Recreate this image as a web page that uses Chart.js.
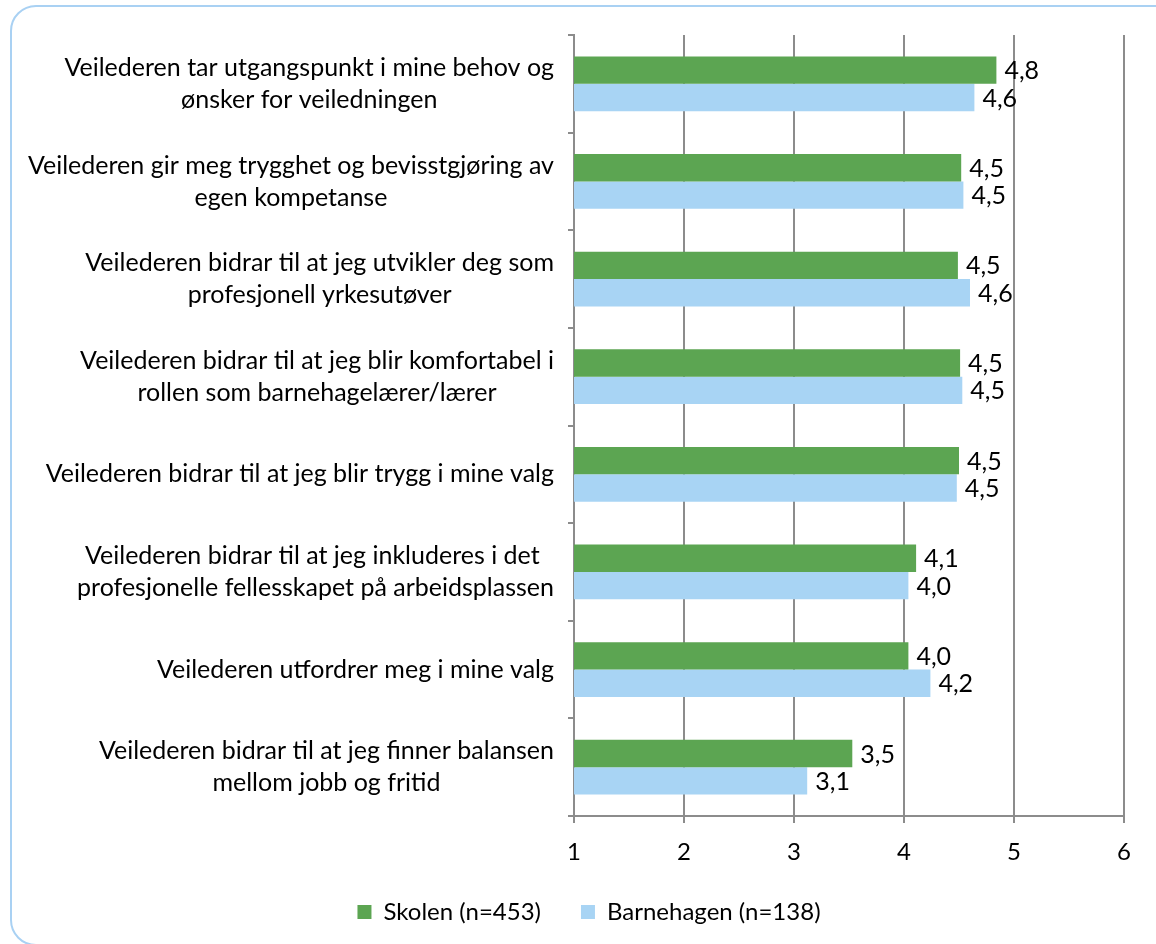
<!DOCTYPE html>
<html>
<head>
<meta charset="utf-8">
<script src="https://cdn.jsdelivr.net/npm/chart.js@4/dist/chart.umd.min.js"></script>
<style>
  body { margin: 0; background: #fff; }
  #wrap { position: relative; width: 1156px; height: 944px; overflow: hidden; }
  #frame {
    position: absolute; left: 10px; top: 5px; width: 1170px; height: 941px;
    border: 2px solid #a9d1f3; border-radius: 26px; box-sizing: border-box;
  }
  #chart { position: absolute; left: 0; top: 0; }
</style>
</head>
<body>
<div id="wrap">
  <div id="frame"></div>
  <canvas id="chart" width="1156" height="944"></canvas>
</div>
<script>
const categories = [
  ['Veilederen tar utgangspunkt i mine behov og', 'ønsker for veiledningen'],
  ['Veilederen gir meg trygghet og bevisstgjøring av', 'egen kompetanse'],
  ['Veilederen bidrar til at jeg utvikler deg som', 'profesjonell yrkesutøver'],
  ['Veilederen bidrar til at jeg blir komfortabel i', 'rollen som barnehagelærer/lærer'],
  ['Veilederen bidrar til at jeg blir trygg i mine valg'],
  ['Veilederen bidrar til at jeg inkluderes i det ', 'profesjonelle fellesskapet på arbeidsplassen'],
  ['Veilederen utfordrer meg i mine valg'],
  ['Veilederen bidrar til at jeg finner balansen', 'mellom jobb og fritid']
];
const skolen = [4.84, 4.52, 4.49, 4.51, 4.50, 4.11, 4.04, 3.53];
const barnehagen = [4.64, 4.54, 4.60, 4.53, 4.48, 4.04, 4.24, 3.12];
const seriesNames = ['Skolen (n=453)', 'Barnehagen (n=138)'];
const xTicks = [1, 2, 3, 4, 5, 6];

const FONT = 'Lato';
const SIZE = 25;
const GRID = '#8c8c8c';

const fmt = v => v.toFixed(1).replace('.', ',');

// y labels: block right-aligned to the axis, lines centered inside the block
const yLabelPlugin = {
  id: 'yLabels',
  afterDraw(chart) {
    const ctx = chart.ctx;
    const ys = chart.scales.y;
    const right = chart.chartArea.left - 20;
    const lineH = 32;
    ctx.save();
    ctx.font = `${SIZE}px ${FONT}`;
    ctx.fillStyle = '#000';
    ctx.textAlign = 'center';
    ctx.textBaseline = 'middle';
    categories.forEach((lines, i) => {
      const w = Math.max(...lines.map(l => ctx.measureText(l).width));
      const cx = right - w / 2;
      const cy = ys.getPixelForTick(i);
      const y0 = cy - (lines.length - 1) * lineH / 2;
      lines.forEach((l, j) => ctx.fillText(l, cx, y0 + j * lineH));
    });
    ctx.restore();
  }
};

// value labels at the end of each bar
const valueLabelPlugin = {
  id: 'valueLabels',
  afterDatasetsDraw(chart) {
    const ctx = chart.ctx;
    ctx.save();
    ctx.font = `${SIZE}px ${FONT}`;
    ctx.fillStyle = '#000';
    ctx.textAlign = 'left';
    ctx.textBaseline = 'middle';
    chart.data.datasets.forEach((ds, di) => {
      chart.getDatasetMeta(di).data.forEach((bar, i) => {
        ctx.fillText(fmt(ds.data[i]), bar.x + 8, bar.y + 1);
      });
    });
    ctx.restore();
  }
};

// legend row sits a bit right of the canvas centre in the original
const legendShift = {
  id: 'legendShift',
  afterLayout(chart) {
    chart.legend.left += 27;
    chart.legend.right += 27;
  }
};

new Chart(document.getElementById('chart'), {
  type: 'bar',
  data: {
    labels: categories,
    datasets: [
      { label: seriesNames[0], data: skolen, backgroundColor: '#5ca552' },
      { label: seriesNames[1], data: barnehagen, backgroundColor: '#a8d4f4' }
    ]
  },
  options: {
    indexAxis: 'y',
    responsive: false,
    animation: false,
    layout: { padding: { top: 35, right: 32, bottom: 10, left: 0 } },
    datasets: { bar: { categoryPercentage: 0.562, barPercentage: 1.0 } },
    plugins: {
      legend: {
        position: 'bottom',
        labels: {
          boxWidth: 14, boxHeight: 14, padding: 40,
          color: '#000', font: { family: FONT, size: 24 }
        }
      },
      tooltip: { enabled: false }
    },
    scales: {
      x: {
        min: xTicks[0], max: xTicks[xTicks.length - 1],
        afterBuildTicks(scale) { scale.ticks = xTicks.map(v => ({ value: v })); },
        afterFit(scale) { scale.height = 44; },
        ticks: { color: '#000', font: { family: FONT, size: 24 }, padding: 15 },
        grid: { color: GRID, lineWidth: 2, tickLength: 7 },
        border: { color: GRID, width: 2 }
      },
      y: {
        afterFit(scale) { scale.width = 574; },
        ticks: { display: false },
        grid: { drawOnChartArea: false, color: GRID, lineWidth: 2, tickLength: 6 },
        border: { color: GRID, width: 2 }
      }
    }
  },
  plugins: [yLabelPlugin, valueLabelPlugin, legendShift]
});
</script>
</body>
</html>
